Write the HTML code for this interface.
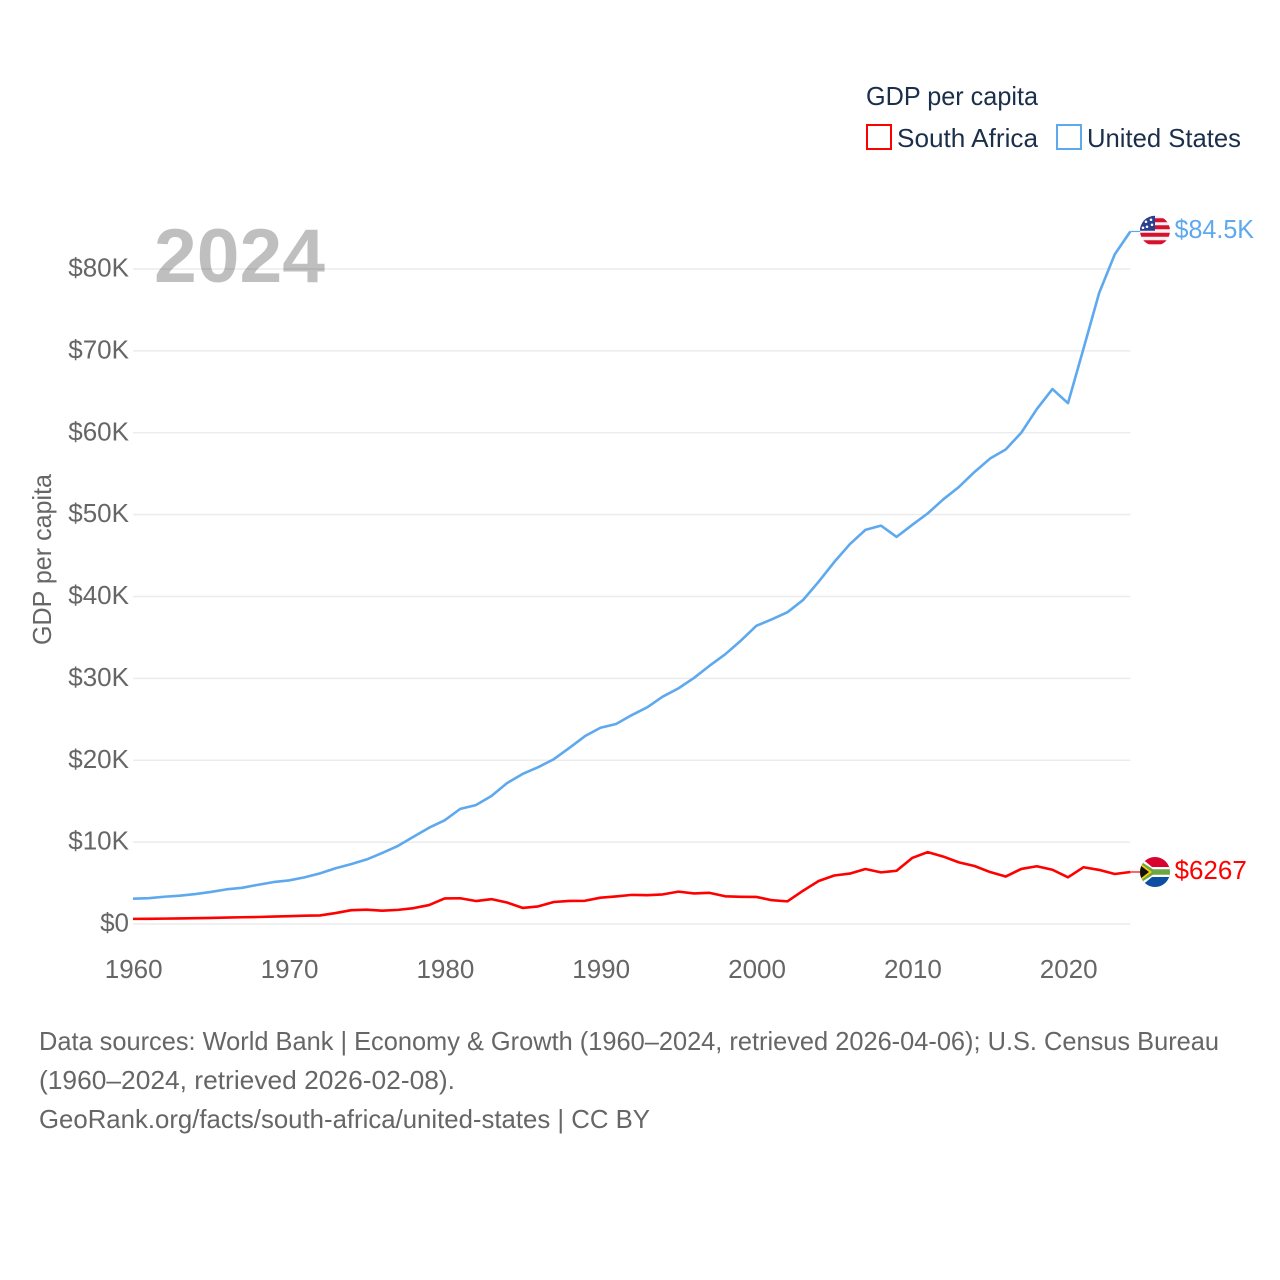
<!DOCTYPE html>
<html lang="en">
<head>
<meta charset="utf-8">
<title>GDP per capita: South Africa and United States</title>
<style>
html,body{margin:0;padding:0;background:#fff;width:1280px;height:1280px;overflow:hidden}
svg{display:block}
text{font-family:"Liberation Sans",sans-serif}
.legend-text{font-size:26px;fill:#1b2f4b}
.tick{font-size:26px;fill:#666}
.foot{font-size:26px;fill:#666}
</style>
</head>
<body>
<svg id="chart" xmlns="http://www.w3.org/2000/svg" width="1280" height="1280" viewBox="0 0 1280 1280">
  <defs>
    <clipPath id="flag-clip"><circle cx="0" cy="0" r="15"></circle></clipPath>
  </defs>
  <rect x="0" y="0" width="1280" height="1280" fill="#fff"></rect>
  <g id="grid"></g>
  <g id="yticks"></g>
  <g id="xticks"></g>
  <text x="154" y="282" font-size="76" font-weight="700" fill="#000" fill-opacity="0.25" textLength="171" lengthAdjust="spacingAndGlyphs">2024</text>
  <text class="tick" transform="translate(51,645) rotate(-90)" textLength="171" lengthAdjust="spacingAndGlyphs">GDP per capita</text>

  <g>
    <text class="legend-text" x="866" y="105" textLength="172" lengthAdjust="spacingAndGlyphs">GDP per capita</text>
    <g>
      <rect x="867" y="125" width="24" height="24" fill="#fff" stroke="#ff0000" stroke-width="2"></rect>
      <text class="legend-text" x="897" y="147" textLength="141" lengthAdjust="spacingAndGlyphs">South Africa</text>
    </g>
    <g>
      <rect x="1057" y="125" width="24" height="24" fill="#fff" stroke="#5ea9ee" stroke-width="2"></rect>
      <text class="legend-text" x="1087" y="147" textLength="154" lengthAdjust="spacingAndGlyphs">United States</text>
    </g>
  </g>

  <g id="series" transform="translate(0,-0.7)"></g>

  <g id="flag-us">
    <g clip-path="url(#flag-clip)">
      <rect x="-15" y="-16" width="30" height="32" fill="#f1f1f1"></rect>
      <rect x="-15" y="-12.500" width="30" height="4" fill="#d8102f"></rect>
      <rect x="-15" y="-5.500" width="30" height="4" fill="#d8102f"></rect>
      <rect x="-15" y="2" width="30" height="4" fill="#d8102f"></rect>
      <rect x="-15" y="9.500" width="30" height="4" fill="#d8102f"></rect>
      <rect x="-15" y="-16" width="15" height="16" fill="#27408f"></rect>
      <circle cx="-9" cy="-9" r="1.300" fill="#fff"></circle>
      <circle cx="-4" cy="-11" r="1.300" fill="#fff"></circle>
      <circle cx="-3" cy="-6" r="1.300" fill="#fff"></circle>
      <circle cx="-8" cy="-4" r="1.300" fill="#fff"></circle>
      <circle cx="-12" cy="-3" r="1.300" fill="#fff"></circle>
    </g>
  </g>
  <g id="flag-za">
    <g clip-path="url(#flag-clip)">
      <rect x="-15" y="-16" width="30" height="16" fill="#d9032f"></rect>
      <rect x="-15" y="0" width="30" height="16" fill="#0b4ea2"></rect>
      <path d="M-15,-15 L-3,-5 L15,-5 L15,5 L-3,5 L-15,15 Z" fill="#fff"></path>
      <path d="M-15,-11 L-2,-2.800 L15,-2.800 L15,2.800 L-2,2.800 L-15,11 Z" fill="#6da544"></path>
      <path d="M-15,-9 L-3,0 L-15,9 Z" fill="#ffcb05"></path>
      <path d="M-15,-7 L-6,0 L-15,7 Z" fill="#111"></path>
    </g>
  </g>
  <g id="end-labels"></g>

  <g>
    <text class="foot" x="39" y="1050" textLength="1180" lengthAdjust="spacingAndGlyphs">Data sources: World Bank | Economy &amp; Growth (1960–2024, retrieved 2026-04-06); U.S. Census Bureau</text>
    <text class="foot" x="39" y="1089" textLength="416" lengthAdjust="spacingAndGlyphs">(1960–2024, retrieved 2026-02-08).</text>
    <text class="foot" x="39" y="1128" textLength="611" lengthAdjust="spacingAndGlyphs">GeoRank.org/facts/south-africa/united-states | CC BY</text>
  </g>
</svg>
<script>
const years = [1960,1961,1962,1963,1964,1965,1966,1967,1968,1969,1970,1971,1972,1973,1974,1975,1976,1977,1978,1979,1980,1981,1982,1983,1984,1985,1986,1987,1988,1989,1990,1991,1992,1993,1994,1995,1996,1997,1998,1999,2000,2001,2002,2003,2004,2005,2006,2007,2008,2009,2010,2011,2012,2013,2014,2015,2016,2017,2018,2019,2020,2021,2022,2023,2024];
const unitedStates = [3007,3067,3244,3375,3574,3828,4146,4336,4696,5032,5234,5609,6094,6726,7226,7801,8592,9453,10565,11674,12575,13976,14434,15544,17121,18237,19071,20039,21417,22857,23889,24342,25419,26387,27695,28691,29968,31459,32854,34515,36330,37134,37998,39490,41725,44123,46302,48050,48570,47195,48651,50066,51784,53291,55124,56763,57867,59915,62805,65250,63528,70219,77000,81700,84500];
const southAfrica = [540,550,570,600,630,660,700,740,770,820,870,930,960,1250,1600,1660,1540,1640,1850,2230,3040,3060,2720,2950,2540,1880,2060,2600,2730,2750,3130,3280,3470,3430,3530,3870,3650,3720,3300,3240,3220,2820,2680,3980,5170,5840,6070,6630,6220,6420,7980,8690,8150,7440,7000,6260,5710,6640,6970,6540,5620,6850,6520,6020,6267];
const yTickValues = [0,10000,20000,30000,40000,50000,60000,70000,80000];
const yTickLabels = ["$0","$10K","$20K","$30K","$40K","$50K","$60K","$70K","$80K"];
const xTickValues = [1960,1970,1980,1990,2000,2010,2020];
const xTickLabels = ["1960","1970","1980","1990","2000","2010","2020"];
const endLabels = ["$84.5K","$6267"];

const NS = "http://www.w3.org/2000/svg";
const xScale = function (year) { return 133 + (year - 1960) * (1068 - 133) / 60; };
const yScale = function (value) { return 924 - value * (924 - 269) / 80000; };
const gridG = document.getElementById("grid");
const yG = document.getElementById("yticks");
const xG = document.getElementById("xticks");
const seriesG = document.getElementById("series");
const labelG = document.getElementById("end-labels");
const xEnd = xScale(years[years.length - 1]);

yTickValues.forEach(function (v, i) {
  const line = document.createElementNS(NS, "line");
  
  
  line.setAttribute("x1", 133);
  line.setAttribute("x2", xEnd);
  line.setAttribute("y1", yScale(v));
  line.setAttribute("y2", yScale(v));
  line.setAttribute("stroke", "#ececec");
  line.setAttribute("stroke-width", "1.6");
  gridG.appendChild(line);
  const t = document.createElementNS(NS, "text");
  
  
  t.setAttribute("class", "tick");
  t.setAttribute("x", 129);
  t.setAttribute("y", yScale(v) + 7.5);
  t.setAttribute("text-anchor", "end");
  t.textContent = yTickLabels[i];
  yG.appendChild(t);
});

xTickValues.forEach(function (v, i) {
  const t = document.createElementNS(NS, "text");
  
  
  t.setAttribute("class", "tick");
  t.setAttribute("x", xScale(v) + 0.7);
  t.setAttribute("y", 978);
  t.setAttribute("text-anchor", "middle");
  t.textContent = xTickLabels[i];
  xG.appendChild(t);
});

function pathFor(values) {
  return values.map(function (v, i) {
    return (i ? "L" : "M") + xScale(years[i]).toFixed(2) + "," + yScale(v).toFixed(2);
  }).join(" ");
}

const usLine = document.createElementNS(NS, "path");


usLine.setAttribute("d", pathFor(unitedStates));
usLine.setAttribute("fill", "none");
usLine.setAttribute("stroke", "#5ea9ee");
usLine.setAttribute("stroke-width", "2.6");
usLine.setAttribute("stroke-linejoin", "round");
seriesG.appendChild(usLine);

const zaLine = document.createElementNS(NS, "path");


zaLine.setAttribute("d", pathFor(southAfrica));
zaLine.setAttribute("fill", "none");
zaLine.setAttribute("stroke", "#ff0000");
zaLine.setAttribute("stroke-width", "2.6");
zaLine.setAttribute("stroke-linejoin", "round");
seriesG.appendChild(zaLine);

const usLast = yScale(unitedStates[unitedStates.length - 1]);
const zaLast = yScale(southAfrica[southAfrica.length - 1]);

const usConn = document.createElementNS(NS, "line");


usConn.setAttribute("x1", xEnd);
usConn.setAttribute("x2", xEnd + 10);
usConn.setAttribute("y1", usLast);
usConn.setAttribute("y2", usLast);
usConn.setAttribute("stroke", "#5ea9ee");
usConn.setAttribute("stroke-width", "1.2");
seriesG.appendChild(usConn);

const zaConn = document.createElementNS(NS, "line");


zaConn.setAttribute("x1", xEnd);
zaConn.setAttribute("x2", xEnd + 10);
zaConn.setAttribute("y1", zaLast);
zaConn.setAttribute("y2", zaLast);
zaConn.setAttribute("stroke", "#ff0000");
zaConn.setAttribute("stroke-width", "1.2");
seriesG.appendChild(zaConn);

document.getElementById("flag-us").setAttribute("transform", "translate(1155," + (usLast - 1.4) + ")");
document.getElementById("flag-za").setAttribute("transform", "translate(1155," + (zaLast - 0.7) + ")");

const usLabel = document.createElementNS(NS, "text");


usLabel.setAttribute("x", 1174.500);
usLabel.setAttribute("y", usLast + 6);
usLabel.setAttribute("font-size", "26");
usLabel.setAttribute("fill", "#5ea9ee");
usLabel.setAttribute("textLength", "79.500");
usLabel.setAttribute("lengthAdjust", "spacingAndGlyphs");
usLabel.textContent = endLabels[0];
labelG.appendChild(usLabel);

const zaLabel = document.createElementNS(NS, "text");


zaLabel.setAttribute("x", 1174.500);
zaLabel.setAttribute("y", zaLast + 6.5);
zaLabel.setAttribute("font-size", "26");
zaLabel.setAttribute("fill", "#ff0000");
zaLabel.textContent = endLabels[1];
labelG.appendChild(zaLabel);
</script>
</body>
</html>
